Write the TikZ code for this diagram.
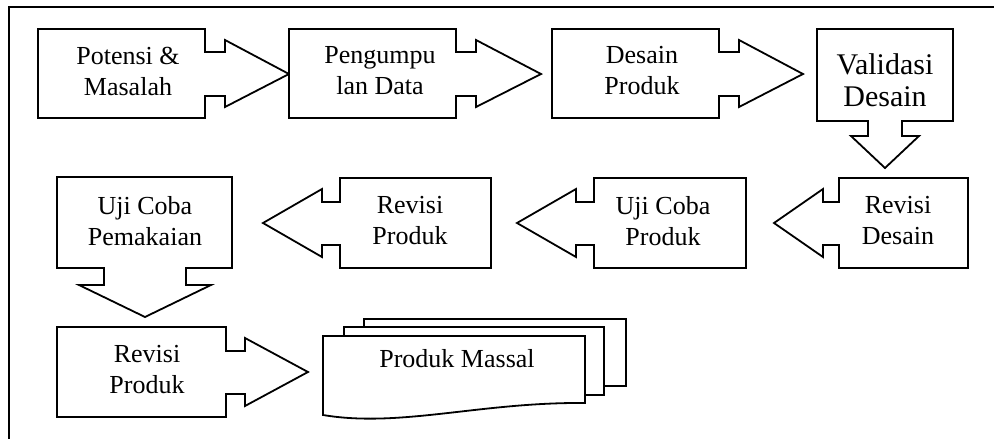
\documentclass[tikz,border=0pt]{standalone}
\usepackage{fontspec}
\setmainfont{Liberation Serif}
\tikzset{
    callout/.style={draw, fill=white, line width=1.8pt, line join=miter},
    lbl/.style={align=center, inner sep=0pt, font=\fontsize{26}{31}\selectfont}
}
\begin{document}
\begin{tikzpicture}[x=1pt, y=-1pt]
        \useasboundingbox (0,0) rectangle (994,439);
        \draw[line width=1.8pt] (994,7) -- (9,7) -- (9,439);

        \draw[callout] (38,29) -- (205,29) -- (205,52) -- (225,52) -- (225,40) -- (289,74) -- (225,107) -- (225,96) -- (205,96) -- (205,118) -- (38,118) -- cycle;
        \node[lbl] (potensi) at (128,71) {Potensi \&\\Masalah};

        \draw[callout] (289,29) -- (456,29) -- (456,52) -- (476,52) -- (476,40) -- (541,74) -- (476,107) -- (476,96) -- (456,96) -- (456,118) -- (289,118) -- cycle;
        \node[lbl] (pengumpulan) at (380,71) {Pengumpu\\lan Data};

        \draw[callout] (552,29) -- (719,29) -- (719,52) -- (739,52) -- (739,40) -- (803,74) -- (739,107) -- (739,96) -- (719,96) -- (719,118) -- (552,118) -- cycle;
        \node[lbl] (desain) at (642,71) {Desain\\Produk};

        \draw[callout] (817,29) -- (953,29) -- (953,121) -- (902,121) -- (902,136) -- (919,136) -- (885,168) -- (851,136) -- (868,136) -- (868,121) -- (817,121) -- cycle;
        \node[lbl, font=\fontsize{30}{32}\selectfont] (validasi) at (885,80) {Validasi\\Desain};

        \draw[callout] (839,178) -- (968,178) -- (968,268) -- (839,268) -- (839,245) -- (823,245) -- (823,257) -- (774,223) -- (823,189) -- (823,202) -- (839,202) -- cycle;
        \node[lbl] (revdesain) at (898,221) {Revisi\\Desain};

        \draw[callout] (594,178) -- (746,178) -- (746,268) -- (594,268) -- (594,245) -- (576,245) -- (576,257) -- (517,223) -- (576,189) -- (576,202) -- (594,202) -- cycle;
        \node[lbl] (ujiproduk) at (663,221) {Uji Coba\\Produk};

        \draw[callout] (340,178) -- (491,178) -- (491,268) -- (340,268) -- (340,245) -- (322,245) -- (322,257) -- (263,223) -- (322,189) -- (322,202) -- (340,202) -- cycle;
        \node[lbl] (revproduk) at (410,221) {Revisi\\Produk};

        \draw[callout] (57,177) -- (232,177) -- (232,268) -- (186,268) -- (186,285) -- (211,285) -- (145,317) -- (79,285) -- (104,285) -- (104,268) -- (57,268) -- cycle;
        \node[lbl] (ujipakai) at (145,221) {Uji Coba\\Pemakaian};

        \draw[callout] (57,327) -- (226,327) -- (226,351) -- (245,351) -- (245,338) -- (308,372) -- (245,406) -- (245,394) -- (226,394) -- (226,417) -- (57,417) -- cycle;
        \node[lbl] (revproduk2) at (147,370) {Revisi\\Produk};

        % tumpukan dokumen
        \draw[callout] (364,319) rectangle (626,386);
        \draw[callout] (344,327) rectangle (604,395);
        \draw[callout] (323,336) -- (585,336) -- (585,403) .. controls (480,402) and (400,428) .. (323,415) -- cycle;
        \node[lbl] (massal) at (457,359) {Produk Massal};

    \end{tikzpicture}
\end{document}
